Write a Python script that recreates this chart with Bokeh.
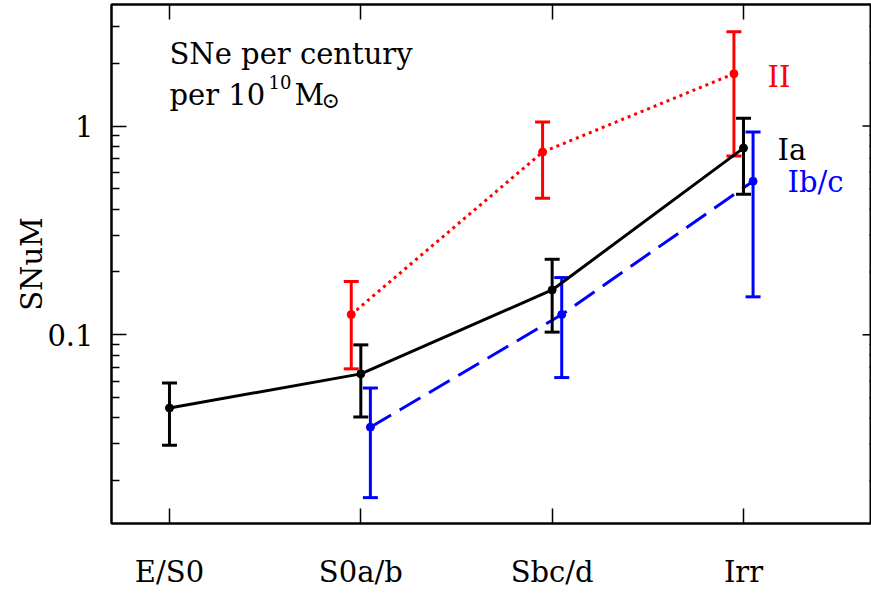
from bokeh.plotting import figure
from bokeh.models import FixedTicker, Range1d, Label, LinearAxis, CustomLabelingPolicy
from bokeh.embed import file_html
from bokeh.resources import INLINE

# ---- data ----
categories = ["E/S0", "S0a/b", "Sbc/d", "Irr"]
cat_pos = [1, 2, 3, 4]

ia_x = [1, 2, 3, 4]
ia_val = [0.0446, 0.065, 0.164, 0.784]
ia_lo = [0.0296, 0.0404, 0.103, 0.471]
ia_hi = [0.0588, 0.0895, 0.230, 1.09]

ii_x = [2, 3, 4]
ii_val = [0.125, 0.75, 1.78]
ii_lo = [0.0687, 0.451, 0.718]
ii_hi = [0.180, 1.045, 2.83]

ibc_x = [2, 3, 4]
ibc_val = [0.0361, 0.125, 0.544]
ibc_lo = [0.0166, 0.0624, 0.152]
ibc_hi = [0.0556, 0.188, 0.935]

y_major = [0.1, 1]
y_major_labels = ["0.1", "1"]
y_minor = [0.02, 0.03, 0.04, 0.05, 0.06, 0.07, 0.08, 0.09,
           0.2, 0.3, 0.4, 0.5, 0.6, 0.7, 0.8, 0.9, 2, 3, 4]

FONT = "DejaVu Serif"
FS = "29px"

X0, X1 = 0.697, 4.669
Y0, Y1 = 0.01248, 3.82
PX_PER_CAT = 191.3         # horizontal scale of the frame (pixels per category)

p = figure(width=871, height=594, y_axis_type="log",
           x_range=Range1d(X0, X1), y_range=Range1d(Y0, Y1),
           output_backend="svg", toolbar_location=None,
           min_border_left=111, min_border_right=0, min_border_top=1,
           min_border_bottom=71)
p.outline_line_color = "black"
p.outline_line_width = 2
p.xgrid.visible = False
p.ygrid.visible = False
p.background_fill_color = "white"
p.border_fill_color = "white"

# bottom axis
xa = p.xaxis[0]
xa.ticker = FixedTicker(ticks=cat_pos, minor_ticks=[])
xa.major_label_overrides = {c: n for c, n in zip(cat_pos, categories)}
xa.major_tick_in = 15
xa.major_tick_out = 0
xa.minor_tick_in = 0
xa.minor_tick_out = 0
xa.major_tick_line_width = 1.5
xa.axis_line_width = 2
xa.major_label_text_font = FONT
xa.major_label_text_font_size = FS
xa.major_label_text_color = "black"
xa.major_label_standoff = 31

# left axis
ya = p.yaxis[0]
ya.ticker = FixedTicker(ticks=y_major, minor_ticks=y_minor)
ya.major_label_overrides = {v: s for v, s in zip(y_major, y_major_labels)}
ya.major_tick_in = 15
ya.major_tick_out = 0
ya.minor_tick_in = 8
ya.minor_tick_out = 0
ya.major_tick_line_width = 1.5
ya.minor_tick_line_width = 1.5
ya.axis_line_width = 2
ya.major_label_text_font = FONT
ya.major_label_text_font_size = FS
ya.major_label_text_color = "black"
ya.major_label_standoff = 18
ya.axis_label = "SNuM"
ya.axis_label_text_font = FONT
ya.axis_label_text_font_size = FS
ya.axis_label_text_color = "black"
ya.axis_label_text_font_style = "normal"
ya.axis_label_standoff = -5

# top axis: ticks only
hide_all = "for (const i of indices) indices.unset(i); return indices"
ta = LinearAxis(ticker=FixedTicker(ticks=cat_pos, minor_ticks=[]),
                major_tick_in=15, major_tick_out=0, minor_tick_in=0, minor_tick_out=0,
                major_tick_line_width=1.5, axis_line_width=2,
                major_label_standoff=0,
                major_label_text_font_size="1px",
                major_label_policy=CustomLabelingPolicy(code=hide_all))
p.add_layout(ta, "above")

# right ticks: the frame edge lies just past the visible area
x_major_end = X1 - 9.0 / PX_PER_CAT
x_minor_end = X1 - 2.0 / PX_PER_CAT
p.segment(x0=[X1] * len(y_major), y0=y_major, x1=[x_major_end] * len(y_major), y1=y_major,
          line_color="black", line_width=1.5)
p.segment(x0=[X1] * len(y_minor), y0=y_minor, x1=[x_minor_end] * len(y_minor), y1=y_minor,
          line_color="black", line_width=1.5)

# ---- series ----
def draw(xs, val, lo, hi, color, dash, shift):
    xp = [x + shift for x in xs]
    p.line(xp, val, line_color=color, line_width=3, line_dash=dash)
    p.segment(x0=xp, y0=lo, x1=xp, y1=hi, line_color=color, line_width=3)
    p.scatter(xp, hi, marker="dash", size=15, line_color=color, line_width=3)
    p.scatter(xp, lo, marker="dash", size=15, line_color=color, line_width=3)
    p.scatter(xp, val, marker="circle", size=8, fill_color=color, line_color=color)

draw(ii_x, ii_val, ii_lo, ii_hi, "#ff0000", "3 4", -0.05)
draw(ibc_x, ibc_val, ibc_lo, ibc_hi, "#0000ff", "24 10", 0.05)
draw(ia_x, ia_val, ia_lo, ia_hi, "black", "solid", 0.0)

# ---- annotations ----
YO = 9
def lab(text, x, y, color="black", size=FS, xo=0, yo=0):
    p.add_layout(Label(x=x, y=y, text=text, x_offset=xo, y_offset=yo + YO,
                       text_font=FONT, text_font_size=size, text_color=color,
                       text_align="left", text_baseline="alphabetic"))

lab("SNe per century", 1.0, 2.01)
lab("per 10", 1.0, 1.276)
lab("10", 1.0, 1.276, size="18px", xo=99, yo=13)
lab("M", 1.0, 1.276, xo=125)
lab("\u2299", 1.0, 1.276, size="22px", xo=152, yo=-6)

lab("II", 4.126, 1.556, color="#ff0000")
lab("Ia", 4.178, 0.694, color="black")
lab("Ib/c", 4.23, 0.487, color="#0000ff")

open("out.html", "w").write(file_html(p, INLINE))
